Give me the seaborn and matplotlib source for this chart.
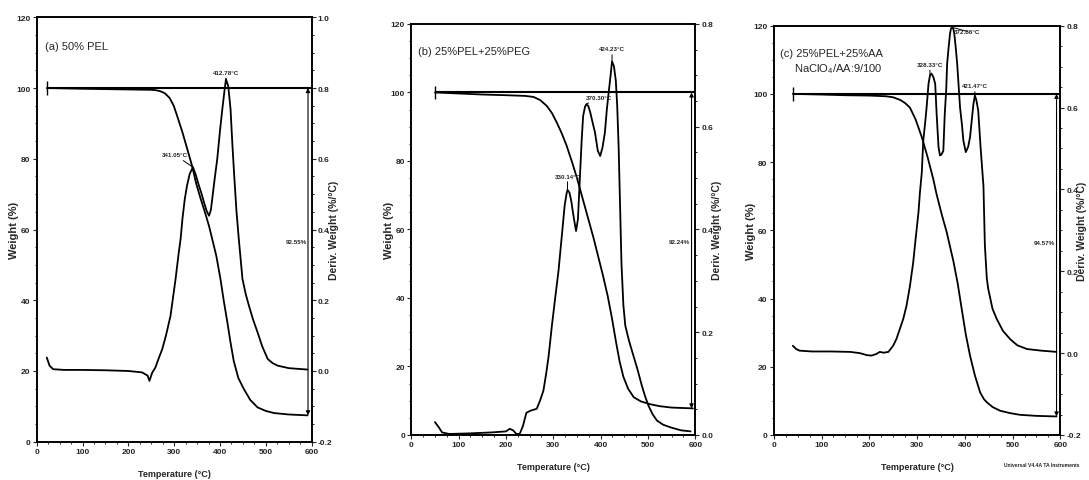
"""TGA / DTG curves for three polymer electrolyte blends"""

import matplotlib
matplotlib.use("Agg")
import matplotlib.pyplot as plt
from matplotlib.ticker import MultipleLocator, FormatStrFormatter
import seaborn as sns
import numpy as np
import pandas as pd

# ---- panel (a) 50% PEL ----
tga_a_t = [22, 100, 200, 250, 260, 270, 280, 290, 299, 306, 318, 328, 339, 348, 358, 368, 376, 383,
           392, 401, 408, 416, 423, 430, 440, 452, 466, 482, 500, 518, 550, 591]
tga_a_w = [100, 99.8, 99.6, 99.5, 99.4, 99.1, 98.5, 97.2, 95, 92.3, 87.5, 83, 78, 73, 68.6, 64.5,
           61, 57.3, 52.5, 46, 40, 33.8, 28, 22.8, 18, 14.9, 11.8, 9.7, 8.7, 8.1, 7.7, 7.45]
dtg_a_t = [22, 28, 36, 60, 100, 150, 200, 230, 242, 246, 252, 259, 266, 274, 282, 292, 303, 310, 314,
           318, 323, 328, 334, 341, 347, 354, 360, 365, 371, 376, 380, 383, 388, 394, 400, 405, 410,
           413, 418, 423, 427, 431, 436, 441, 449, 456, 463, 472, 482, 492, 504, 515, 526, 550, 591]
dtg_a_d = [0.038, 0.015, 0.005, 0.003, 0.003, 0.002, 0.000, -0.004, -0.013, -0.028, -0.005, 0.010,
           0.035, 0.062, 0.100, 0.156, 0.260, 0.335, 0.373, 0.430, 0.485, 0.524, 0.558, 0.576, 0.555,
           0.524, 0.500, 0.477, 0.452, 0.439, 0.455, 0.486, 0.540, 0.600, 0.680, 0.740, 0.795, 0.825,
           0.805, 0.740, 0.640, 0.552, 0.450, 0.373, 0.260, 0.218, 0.185, 0.146, 0.109, 0.070, 0.034,
           0.022, 0.015, 0.008, 0.004]

# ---- panel (b) 25%PEL+25%PEG ----
tga_b_t = [50, 100, 150, 200, 240, 258, 272, 286, 297, 307, 318, 328, 340, 350, 358, 366, 375, 385,
           395, 405, 415, 424, 432, 440, 448, 458, 470, 485, 504, 525, 550, 595]
tga_b_w = [100, 99.7, 99.4, 99.2, 99, 98.7, 97.8, 96.1, 94, 91.3, 88, 84.5, 79.5, 75, 71, 67, 62.5,
           57.5, 52, 46.5, 40.5, 34, 27.5, 21.5, 17, 13.5, 11, 9.8, 9, 8.4, 8, 7.76]
dtg_b_t = [50, 58, 65, 80, 120, 170, 200, 208, 215, 222, 229, 236, 243, 251, 258, 265, 272, 279, 285,
           290, 297, 304, 311, 318, 324, 328, 330, 334, 338, 342, 345, 348, 352, 356, 360, 363, 367,
           370, 374, 378, 382, 388, 394, 399, 404, 409, 413, 417, 421, 424, 428, 432, 435, 438, 441,
           444, 448, 452, 460, 469, 478, 487, 494, 501, 510, 519, 532, 547, 570, 590]
dtg_b_d = [0.025, 0.015, 0.005, 0.002, 0.003, 0.005, 0.007, 0.012, 0.009, 0.002, 0.002, 0.018,
           0.043, 0.047, 0.049, 0.051, 0.067, 0.086, 0.120, 0.153, 0.213, 0.267, 0.320, 0.388, 0.447,
           0.470, 0.477, 0.472, 0.455, 0.430, 0.413, 0.397, 0.420, 0.498, 0.576, 0.621, 0.639, 0.644,
           0.640, 0.628, 0.612, 0.589, 0.553, 0.543, 0.560, 0.589, 0.633, 0.667, 0.700, 0.727, 0.718,
           0.690, 0.640, 0.560, 0.447, 0.333, 0.253, 0.213, 0.183, 0.155, 0.127, 0.096, 0.075, 0.057,
           0.040, 0.028, 0.020, 0.015, 0.009, 0.007]

# ---- panel (c) 25%PEL+25%AA, NaClO4/AA 9/100 ----
tga_c_t = [40, 100, 150, 200, 235, 250, 265, 275, 285, 297, 310, 322, 334, 341, 352, 362, 376, 385,
           394, 402, 411, 421, 432, 440, 446, 458, 474, 495, 516, 550, 592]
tga_c_w = [100, 99.8, 99.6, 99.5, 99.3, 99, 98.2, 97.3, 96, 92.5, 87.3, 81.5, 75, 70.5, 64.5, 59.5,
           51, 44.5, 36.5, 29.5, 23.2, 17.5, 12.5, 10.5, 9.6, 8.2, 7.1, 6.4, 5.9, 5.6, 5.43]
dtg_c_t = [40, 47, 54, 80, 120, 160, 180, 195, 205, 215, 222, 230, 240, 250, 257, 264, 271, 278, 285,
           292, 297, 303, 306, 310, 313, 317, 320, 324, 327, 330, 334, 338, 341, 345, 348, 351, 355,
           358, 361, 363, 366, 369, 371, 373, 376, 378, 381, 384, 387, 390, 394, 397, 402, 407, 411,
           414, 418, 421, 424, 428, 433, 439, 442, 446, 449, 458, 467, 480, 495, 510, 530, 560, 592]
dtg_c_d = [0.018, 0.010, 0.006, 0.004, 0.004, 0.003, 0.000, -0.005, -0.006, -0.002, 0.003, 0.001,
           0.003, 0.018, 0.035, 0.059, 0.083, 0.116, 0.163, 0.222, 0.279, 0.344, 0.392, 0.442, 0.519,
           0.563, 0.600, 0.658, 0.678, 0.683, 0.675, 0.658, 0.584, 0.503, 0.483, 0.485, 0.494, 0.584,
           0.642, 0.707, 0.746, 0.780, 0.793, 0.796, 0.792, 0.780, 0.746, 0.707, 0.654, 0.600, 0.558,
           0.519, 0.491, 0.504, 0.528, 0.563, 0.608, 0.629, 0.619, 0.593, 0.503, 0.408, 0.263, 0.183,
           0.157, 0.108, 0.083, 0.054, 0.034, 0.019, 0.010, 0.006, 0.003]

panel_titles = ["(a) 50% PEL", "(b) 25%PEL+25%PEG", "(c) 25%PEL+25%AA"]
residue_labels = ["92.55%", "92.24%", "94.57%"]
peak_labels = [
    [(412.78, "412.78°C", (0, 5)), (341.05, "341.05°C", (-13, 9))],
    [(424.23, "424.23°C", (0, 9)), (370.30, "370.30°C", (9, 5)), (330.14, "330.14°C", (0, 10))],
    [(372.86, "372.86°C", (11, -3)), (328.33, "328.33°C", (0, 8)), (421.47, "421.47°C", (0, 7))],
]
deriv_limits = [(-0.2, 1.0), (0.0, 0.8), (-0.2, 0.8)]

sns.set_style("ticks")
plt.rcParams["font.family"] = ["Liberation Sans", "DejaVu Sans"]
plt.rcParams["mathtext.fontset"] = "custom"
plt.rcParams["mathtext.rm"] = "Liberation Sans"

fig = plt.figure(figsize=(10.89, 4.81), dpi=100)
boxes = [[0.0337, 0.0796, 0.2525, 0.8823],
         [0.3777, 0.0936, 0.2608, 0.8545],
         [0.7105, 0.0936, 0.2632, 0.8510]]
left_label_x = [-0.064, -0.062, -0.061]
right_label_x = [1.062, 1.060, 1.058]

panels = [(tga_a_t, tga_a_w, dtg_a_t, dtg_a_d),
          (tga_b_t, tga_b_w, dtg_b_t, dtg_b_d),
          (tga_c_t, tga_c_w, dtg_c_t, dtg_c_d)]

for i, (tt, tw, dt, dd) in enumerate(panels):
    ax = fig.add_axes(boxes[i])
    ax2 = ax.twinx()
    tga = pd.DataFrame({"T": tt, "W": tw})
    dtg = pd.DataFrame({"T": dt, "D": dd})
    sns.lineplot(data=tga, x="T", y="W", ax=ax, color="black", lw=1.3, estimator=None)
    sns.lineplot(data=dtg, x="T", y="D", ax=ax2, color="black", lw=1.3, estimator=None)

    ax.set_xlim(0, 600)
    ax.set_ylim(0, 120)
    ax2.set_ylim(*deriv_limits[i])

    # 100 % reference line and residue arrow
    ax.hlines(100, tt[0], 600, color="black", lw=1.5)
    ax.vlines(tt[0], 98, 102, color="black", lw=1.0)
    ax.annotate("", xy=(592, 100), xytext=(592, tw[-1]),
                arrowprops=dict(arrowstyle="<|-|>", lw=0.8, color="black",
                                mutation_scale=6, shrinkA=0, shrinkB=0))
    ax.text(589, 56.5, residue_labels[i], ha="right", va="center",
            fontsize=4.5, fontweight="bold")

    # peak temperatures
    dt_arr = np.array(dt)
    for tp, lab, off in peak_labels[i]:
        k = int(np.argmin(np.abs(dt_arr - tp)))
        ax2.annotate(lab, xy=(dt[k], dd[k]), xytext=off, textcoords="offset points",
                     ha="center", va="center", fontsize=4.5, fontweight="bold",
                     arrowprops=dict(arrowstyle="-", lw=0.7, color="black",
                                     shrinkA=0, shrinkB=0))

    ax.text(14 if i else 18, 112, panel_titles[i], fontsize=8, ha="left", va="center")
    if i == 2:
        ax.text(43, 107.5, "NaClO$_4$/AA:9/100", fontsize=8, ha="left", va="center")

    ax.xaxis.set_major_locator(MultipleLocator(100))
    ax.xaxis.set_minor_locator(MultipleLocator(25))
    ax.yaxis.set_major_locator(MultipleLocator(20))
    ax.yaxis.set_minor_locator(MultipleLocator(5))
    ax2.yaxis.set_major_locator(MultipleLocator(0.2))
    ax2.yaxis.set_minor_locator(MultipleLocator(0.05))
    ax2.yaxis.set_major_formatter(FormatStrFormatter("%.1f"))

    for a in (ax, ax2):
        a.tick_params(which="major", direction="out", length=3, width=0.8, labelsize=6, pad=1.5)
        a.tick_params(which="minor", direction="out", length=1.5, width=0.7)
        for lab in a.get_xticklabels() + a.get_yticklabels():
            lab.set_fontweight("bold")
        for sp in a.spines.values():
            sp.set_visible(True)
            sp.set_linewidth(1.2)
            sp.set_color("black")

    ax.set_xlabel("Temperature (°C)", fontsize=6.5, fontweight="bold", labelpad=10)
    ax.set_ylabel("Weight (%)", fontsize=8, fontweight="bold")
    ax2.set_ylabel("Deriv. Weight (%/°C)", fontsize=7.5, fontweight="bold")
    ax.yaxis.set_label_coords(left_label_x[i], 0.5)
    ax2.yaxis.set_label_coords(right_label_x[i], 0.5)

fig.text(0.922, 0.033, "Universal V4.4A TA Instruments", fontsize=3.6, fontweight="bold",
         ha="left", va="center")

fig.savefig("out.png", dpi=100)
